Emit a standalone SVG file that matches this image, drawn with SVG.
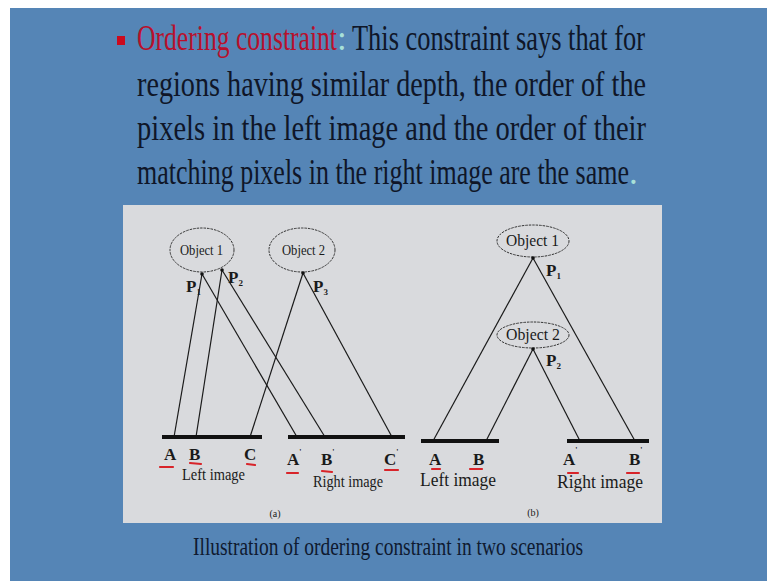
<svg xmlns="http://www.w3.org/2000/svg" width="767" height="581" viewBox="0 0 767 581">
<style>
.hd{font-family:"Liberation Serif","Times New Roman",serif;font-size:35px;fill:#0f1628}
.cap{font-family:"Liberation Serif","Times New Roman",serif;font-size:25px;fill:#0f1a30}
.t{font-family:"Liberation Serif","Times New Roman",serif;fill:#1a1a1a}
.lb{font-family:"Liberation Serif","Times New Roman",serif;font-weight:bold;font-size:17px;fill:#1a1a1a}
.p{font-family:"Liberation Serif","Times New Roman",serif;font-weight:bold;font-size:17px;fill:#1a1a1a}
.ln{stroke:#1a1a1a;stroke-width:1.2;fill:none}
.bar{stroke:#111;stroke-width:4;fill:none}
.ell{fill:none;stroke:#333;stroke-width:1;stroke-dasharray:2.5 1}
.ul{stroke:#d8242a;stroke-width:2.2;fill:none;stroke-linecap:round}
</style>
<rect x="0" y="0" width="767" height="581" fill="#ffffff"/>
<rect x="10" y="8" width="757" height="573" fill="#5585b6"/>
<!-- header -->
<rect x="117" y="36" width="8" height="9" fill="#cc0a1e"/>
<text class="hd" x="137" y="50" style="fill:#b8102c" textLength="200" lengthAdjust="spacingAndGlyphs">Ordering constraint</text>
<text class="hd" x="337" y="50" style="fill:#a8e0d8">:</text>
<text class="hd" x="352" y="50" textLength="293" lengthAdjust="spacingAndGlyphs">This constraint says that for</text>
<text class="hd" x="137" y="96" textLength="509" lengthAdjust="spacingAndGlyphs">regions having similar depth, the order of the</text>
<text class="hd" x="137" y="140" textLength="509" lengthAdjust="spacingAndGlyphs">pixels in the left image and the order of their</text>
<text class="hd" x="137" y="184" textLength="492" lengthAdjust="spacingAndGlyphs">matching pixels in the right image are the same</text>
<text class="hd" x="629" y="184" style="fill:#a8e0d8">.</text>
<!-- panel -->
<rect x="123" y="205" width="539" height="318" fill="#d9dadd"/>
<!-- connectors -->
<g id="connectors">
<line class="ln" x1="202" y1="274" x2="174" y2="437"/>
<line class="ln" x1="202" y1="274" x2="297" y2="437"/>
<line class="ln" x1="222" y1="270" x2="196" y2="437"/>
<line class="ln" x1="222" y1="270" x2="325" y2="437"/>
<line class="ln" x1="303" y1="273" x2="250" y2="437"/>
<line class="ln" x1="303" y1="273" x2="392" y2="437"/>
<line class="ln" x1="533" y1="258" x2="433" y2="441"/>
<line class="ln" x1="533" y1="258" x2="635" y2="441"/>
<line class="ln" x1="533" y1="349" x2="486" y2="441"/>
<line class="ln" x1="533" y1="349" x2="580" y2="441"/>
</g>
<!-- (a) -->
<g id="a-object1">
<ellipse class="ell" cx="202" cy="250" rx="32" ry="22"/>
<text class="t" x="180" y="255" font-size="14" textLength="43" lengthAdjust="spacingAndGlyphs">Object 1</text>
</g>
<g id="a-object2">
<ellipse class="ell" cx="302" cy="250" rx="33" ry="22"/>
<text class="t" x="282" y="255" font-size="14" textLength="43" lengthAdjust="spacingAndGlyphs">Object 2</text>
</g>
<g id="a-points">
<circle cx="202" cy="274" r="1.8" fill="#111"/>
<circle cx="222" cy="270" r="1.8" fill="#111"/>
<circle cx="303" cy="273" r="1.8" fill="#111"/>
<text class="p" x="186" y="292">P<tspan font-size="9" dy="3">1</tspan></text>
<text class="p" x="228" y="283">P<tspan font-size="9" dy="3">2</tspan></text>
<text class="p" x="313" y="292">P<tspan font-size="9" dy="3">3</tspan></text>
</g>
<g id="a-left-image">
<line class="bar" x1="162" y1="437" x2="262" y2="437"/>
<text class="lb" x="164" y="460">A</text>
<text class="lb" x="189" y="460">B</text>
<text class="lb" x="244" y="460">C</text>
<path class="ul" d="M160 467 L173 467 M190 463 L201 464 M247 464 L255 465"/>
<text class="t" x="182" y="480" font-size="17" textLength="63" lengthAdjust="spacingAndGlyphs">Left image</text>
</g>
<g id="a-right-image">
<line class="bar" x1="288" y1="437" x2="405" y2="437"/>
<text class="lb" x="287" y="465">A<tspan font-size="8" dy="-10">'</tspan></text>
<text class="lb" x="321" y="465">B<tspan font-size="8" dy="-10">'</tspan></text>
<text class="lb" x="384" y="465">C<tspan font-size="8" dy="-10">'</tspan></text>
<path class="ul" d="M287 473 L298 473 M322 471 L332 472 M385 470 L398 470"/>
<text class="t" x="313" y="487" font-size="17" textLength="70" lengthAdjust="spacingAndGlyphs">Right image</text>
</g>
<text class="t" x="275" y="517" font-size="10" text-anchor="middle">(a)</text>
<!-- (b) -->
<g id="b-object1">
<ellipse class="ell" cx="533" cy="241" rx="36" ry="16"/>
<text class="t" x="506" y="246" font-size="17" textLength="53" lengthAdjust="spacingAndGlyphs">Object 1</text>
</g>
<g id="b-object2">
<ellipse class="ell" cx="533" cy="335" rx="36" ry="13"/>
<text class="t" x="506" y="340" font-size="17" textLength="54" lengthAdjust="spacingAndGlyphs">Object 2</text>
</g>
<g id="b-points">
<circle cx="533" cy="258" r="1.8" fill="#111"/>
<circle cx="533" cy="349" r="1.8" fill="#111"/>
<text class="p" x="546" y="276">P<tspan font-size="9" dy="3">1</tspan></text>
<text class="p" x="546" y="366">P<tspan font-size="9" dy="3">2</tspan></text>
</g>
<g id="b-left-image">
<line class="bar" x1="421" y1="441" x2="499" y2="441"/>
<text class="lb" x="429" y="465">A</text>
<text class="lb" x="473" y="465">B</text>
<path class="ul" d="M432 469 L440 469 M470 469 L482 469"/>
<text class="t" x="420" y="486" font-size="19" textLength="76" lengthAdjust="spacingAndGlyphs">Left image</text>
</g>
<g id="b-right-image">
<line class="bar" x1="567" y1="441" x2="649" y2="441"/>
<text class="lb" x="563" y="465">A<tspan font-size="8" dy="-12">'</tspan></text>
<text class="lb" x="629" y="465">B<tspan font-size="8" dy="-12">'</tspan></text>
<path class="ul" d="M568 473 L578 473 M627 473 L639 473"/>
<text class="t" x="557" y="488" font-size="19" textLength="86" lengthAdjust="spacingAndGlyphs">Right image</text>
</g>
<text class="t" x="533" y="516" font-size="10" text-anchor="middle">(b)</text>
<!-- caption -->
<text class="cap" x="193" y="555" textLength="390" lengthAdjust="spacingAndGlyphs">Illustration of ordering constraint in two scenarios</text>
</svg>
